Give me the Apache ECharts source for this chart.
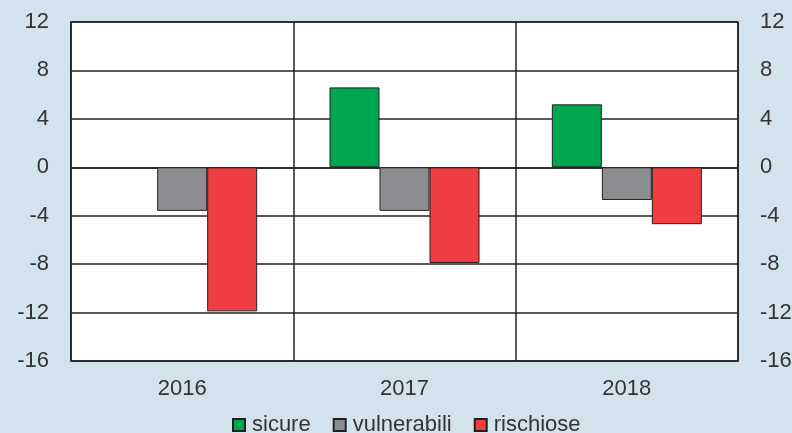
<!DOCTYPE html>
<html><head><meta charset="utf-8">
<script src="https://cdn.jsdelivr.net/npm/echarts@6/dist/echarts.min.js"></script>
<style>html,body{margin:0;padding:0;background:#d3e3ee;}#c{width:792px;height:433px;}</style>
</head><body><div id="c"></div>
<script>
const categories = ['2016', '2017', '2018'];
const sicure = [null, 6.6, 5.2];
const vulnerabili = [-3.6, -3.6, -2.7];
const rischiose = [-11.9, -7.9, -4.7];
const yTicks = [-16, -12, -8, -4, 0, 4, 8, 12];

const chart = echarts.init(document.getElementById('c'), null, {renderer: 'canvas'});
const font = 'Liberation Sans, Arial, sans-serif';
const yAxisBase = {
  type: 'value', min: yTicks[0], max: yTicks[yTicks.length - 1], interval: 4,
  axisLine: {show: false}, axisTick: {show: false},
  axisLabel: {color: '#333', fontSize: 22, fontFamily: font},
};
chart.setOption({
  backgroundColor: '#d3e3ee',
  animation: false,
  grid: {left: 71, right: 54, top: 22, bottom: 72, outerBoundsMode: 'none', containLabel: false, show: true, backgroundColor: '#fff', borderColor: '#222', borderWidth: 1.5},
  legend: {
    top: 409, left: 227, itemWidth: 12, itemHeight: 12, itemGap: 22, icon: 'rect',
    textStyle: {color: '#333', fontSize: 22, lineHeight: 22, fontFamily: font, padding: [0, 0, 0, 2]},
    data: ['sicure', 'vulnerabili', 'rischiose']
  },
  xAxis: {
    type: 'category', data: categories,
    axisLine: {show: true, lineStyle: {color: '#222', width: 1.5}},
    axisTick: {show: false},
    splitLine: {show: true, lineStyle: {color: '#222', width: 1.5}},
    axisLabel: {color: '#333', fontSize: 22, fontFamily: font, margin: 17}
  },
  yAxis: [
    Object.assign({}, yAxisBase, {position: 'left', splitLine: {show: true, lineStyle: {color: '#222', width: 1.5}}, axisLabel: Object.assign({}, yAxisBase.axisLabel, {margin: 22})}),
    Object.assign({}, yAxisBase, {position: 'right', splitLine: {show: false}, axisLabel: Object.assign({}, yAxisBase.axisLabel, {margin: 22})})
  ],
  series: [
    {name: 'sicure', type: 'bar', data: sicure, barWidth: 50, barGap: '0%', itemStyle: {color: '#00a54f', borderColor: '#222', borderWidth: 1}},
    {name: 'vulnerabili', type: 'bar', data: vulnerabili, barWidth: 50, barGap: '0%', itemStyle: {color: '#8c8d90', borderColor: '#222', borderWidth: 1}},
    {name: 'rischiose', type: 'bar', data: rischiose, barWidth: 50, barGap: '0%', itemStyle: {color: '#ef3d42', borderColor: '#222', borderWidth: 1}}
  ]
});
</script></body></html>
